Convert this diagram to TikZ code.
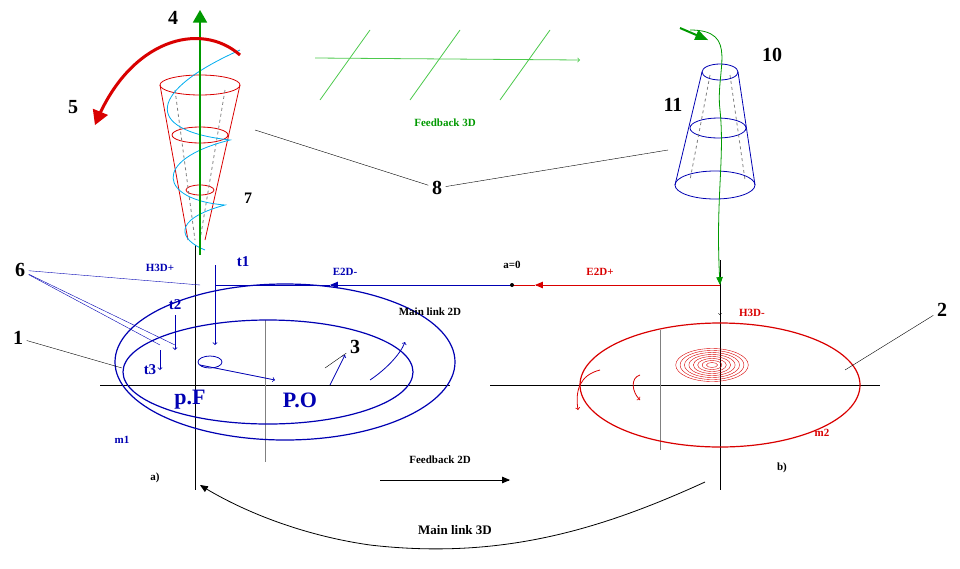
\documentclass[tikz,border=0pt]{standalone}
\usepackage{fontspec}
\setmainfont{Liberation Serif}
\usetikzlibrary{arrows}
\begin{document}
\begin{tikzpicture}[x=1pt,y=-1pt,thick,
  num/.style={font=\bfseries\fontsize{20}{20}\selectfont},
  lab/.style={font=\bfseries\fontsize{11}{11}\selectfont},
  blu/.style={color=blue!70!black},
  rd/.style={color=red!85!black},
  grn/.style={color=green!60!black}]
\useasboundingbox (0,0) rectangle (960,568);
% axes
\draw[thin] (100,385) -- (450,385);
\draw[thin] (490,385) -- (880,385);
\draw (195,245) -- (195,490);
\draw (720,260) -- (720,490);
\draw[thin,gray] (265,320) -- (265,462);
\draw[thin,gray] (660,330) -- (660,450);
% left ellipses
\draw[blu,line width=1.2pt] (285,362) ellipse [x radius=170,y radius=78];
\draw[blu,line width=1.2pt] (268,372) ellipse [x radius=145,y radius=52];
\draw[blu] (210,362) ellipse [x radius=12,y radius=6];
\draw[blu,->] (200,365) -- (275,380);
\draw[blu,->] (330,385) -- (345,355);
\draw[blu,->] (370,380) .. controls (385,370) and (400,355) .. (405,342);
% right ellipse and spiral
\draw[rd,line width=1.2pt] (720,385) ellipse [x radius=140,y radius=62];
\foreach \r in {5,9,...,33}
  \draw[rd,thin] (712,365) ellipse [x radius=\r*1.1,y radius=\r*0.5];
\draw[rd,->] (600,370) .. controls (580,375) and (575,390) .. (578,410);
\draw[rd,->] (640,375) .. controls (630,378) and (632,392) .. (640,400);
% main link 2D
\coordinate (azero) at (512,285);
\draw[rd,-triangle 45] (720,285) -- (535,285);
\draw[rd] (535,285) -- (azero);
\draw[blu,-triangle 45] (azero) -- (330,285);
\draw[blu] (330,285) -- (215,285);
\fill (azero) circle (2);
\draw[->,thin] (720,295) -- (720,315);
% t arrows
\draw[blu,->] (215,265) -- (215,345);
\draw[blu,->] (175,315) -- (175,350);
\draw[blu,->] (160,350) -- (160,370);
% left cone (red)
\draw[rd] (200,85) ellipse [x radius=40,y radius=10];
\draw[rd] (200,135) ellipse [x radius=28,y radius=8];
\draw[rd] (200,190) ellipse [x radius=14,y radius=5];
\draw[rd] (160,85) -- (188,240);
\draw[rd] (240,85) -- (205,240);
\draw[dashed,gray] (175,90) -- (195,240) (225,90) -- (200,240);
\draw[cyan,thick] (240,50) .. controls (150,90) and (140,130) .. (230,140)
  .. controls (150,160) and (160,200) .. (225,205) .. controls (170,220) and (180,240) .. (205,250);
\draw[grn,line width=2.5pt,-triangle 60] (200,255) -- (200,10);
\draw[rd,line width=3pt,-triangle 60] (240,55) .. controls (200,20) and (130,40) .. (95,125);
% right cone (blue)
\draw[blu] (720,72) ellipse [x radius=18,y radius=8];
\draw[blu] (718,128) ellipse [x radius=28,y radius=10];
\draw[blu] (715,185) ellipse [x radius=40,y radius=14];
\draw[blu] (702,72) -- (675,185) (738,72) -- (755,185);
\draw[dashed,gray] (710,75) -- (690,180) (730,75) -- (745,180);
\draw[grn,thick,-triangle 45] (690,30) .. controls (740,30) and (715,70) .. (720,110)
  .. controls (725,160) and (715,200) .. (720,285);
\draw[grn,line width=2pt,-triangle 45] (680,28) -- (708,40);
% feedback 3D
\draw[green!70!black!70] (320,100) -- (370,30) (410,100) -- (460,30) (500,100) -- (550,30);
\draw[green!70!black!70,->] (315,58) -- (580,60);
\node[lab,grn] (fb3) at (445,123) {Feedback 3D};
% labels
\node[num] (n4) at (173,18) {4};
\node[num] (n5) at (73,107) {5};
\node[lab,font=\bfseries\fontsize{16}{16}\selectfont] (n7) at (248,198) {7};
\node[num] (n8) at (437,188) {8};
\node[num] (n10) at (772,55) {10};
\node[num] (n11) at (673,105) {11};
\node[num] (n6) at (20,270) {6};
\node[num] (n1) at (18,338) {1};
\node[num] (n2) at (942,310) {2};
\node[num] (n3) at (355,347) {3};
\node[lab,blu,font=\bfseries\fontsize{15}{15}\selectfont] (t1) at (243,262) {t1};
\node[lab,blu,font=\bfseries\fontsize{15}{15}\selectfont] (t2) at (175,305) {t2};
\node[lab,blu,font=\bfseries\fontsize{15}{15}\selectfont] (t3) at (150,370) {t3};
\node[lab,blu] (h3p) at (160,268) {H3D+};
\node[lab,blu] (e2m) at (345,272) {E2D-};
\node[lab] (a0) at (512,265) {a=0};
\node[lab,rd] (e2p) at (600,272) {E2D+};
\node[lab] (ml2) at (430,312) {Main link 2D};
\node[lab,rd] (h3m) at (752,313) {H3D-};
\node[blu,font=\bfseries\fontsize{22}{22}\selectfont] (pf) at (190,400) {p.F};
\node[blu,font=\bfseries\fontsize{22}{22}\selectfont] (po) at (300,400) {P.O};
\node[lab,blu] (m1) at (122,440) {m1};
\node[lab,rd] (m2) at (822,433) {m2};
\node[lab] (pa) at (155,478) {a)};
\node[lab] (pb) at (782,468) {b)};
\node[lab] (fb2) at (440,460) {Feedback 2D};
\node[lab,font=\bfseries\fontsize{13}{13}\selectfont] (ml3) at (455,530) {Main link 3D};
% leader lines
\draw[thin] (n8) -- (255,130);
\draw[thin] (n8) -- (668,150);
\draw[thin] (n1) -- (122,368);
\draw[thin] (n2) -- (845,370);
\draw[thin] (n3) -- (325,368);
\draw[blu,thin] (n6) -- (160,345);
\draw[blu,thin] (n6) -- (175,345);
\draw[blu,thin] (n6) -- (200,285);
% feedback 2D and main link 3D
\draw[-triangle 45] (380,480) -- (510,480);
\draw[-triangle 45] (705,482) .. controls (600,530) and (500,560) .. (370,545)
  .. controls (300,535) and (240,510) .. (200,485);
\end{tikzpicture}
\end{document}
